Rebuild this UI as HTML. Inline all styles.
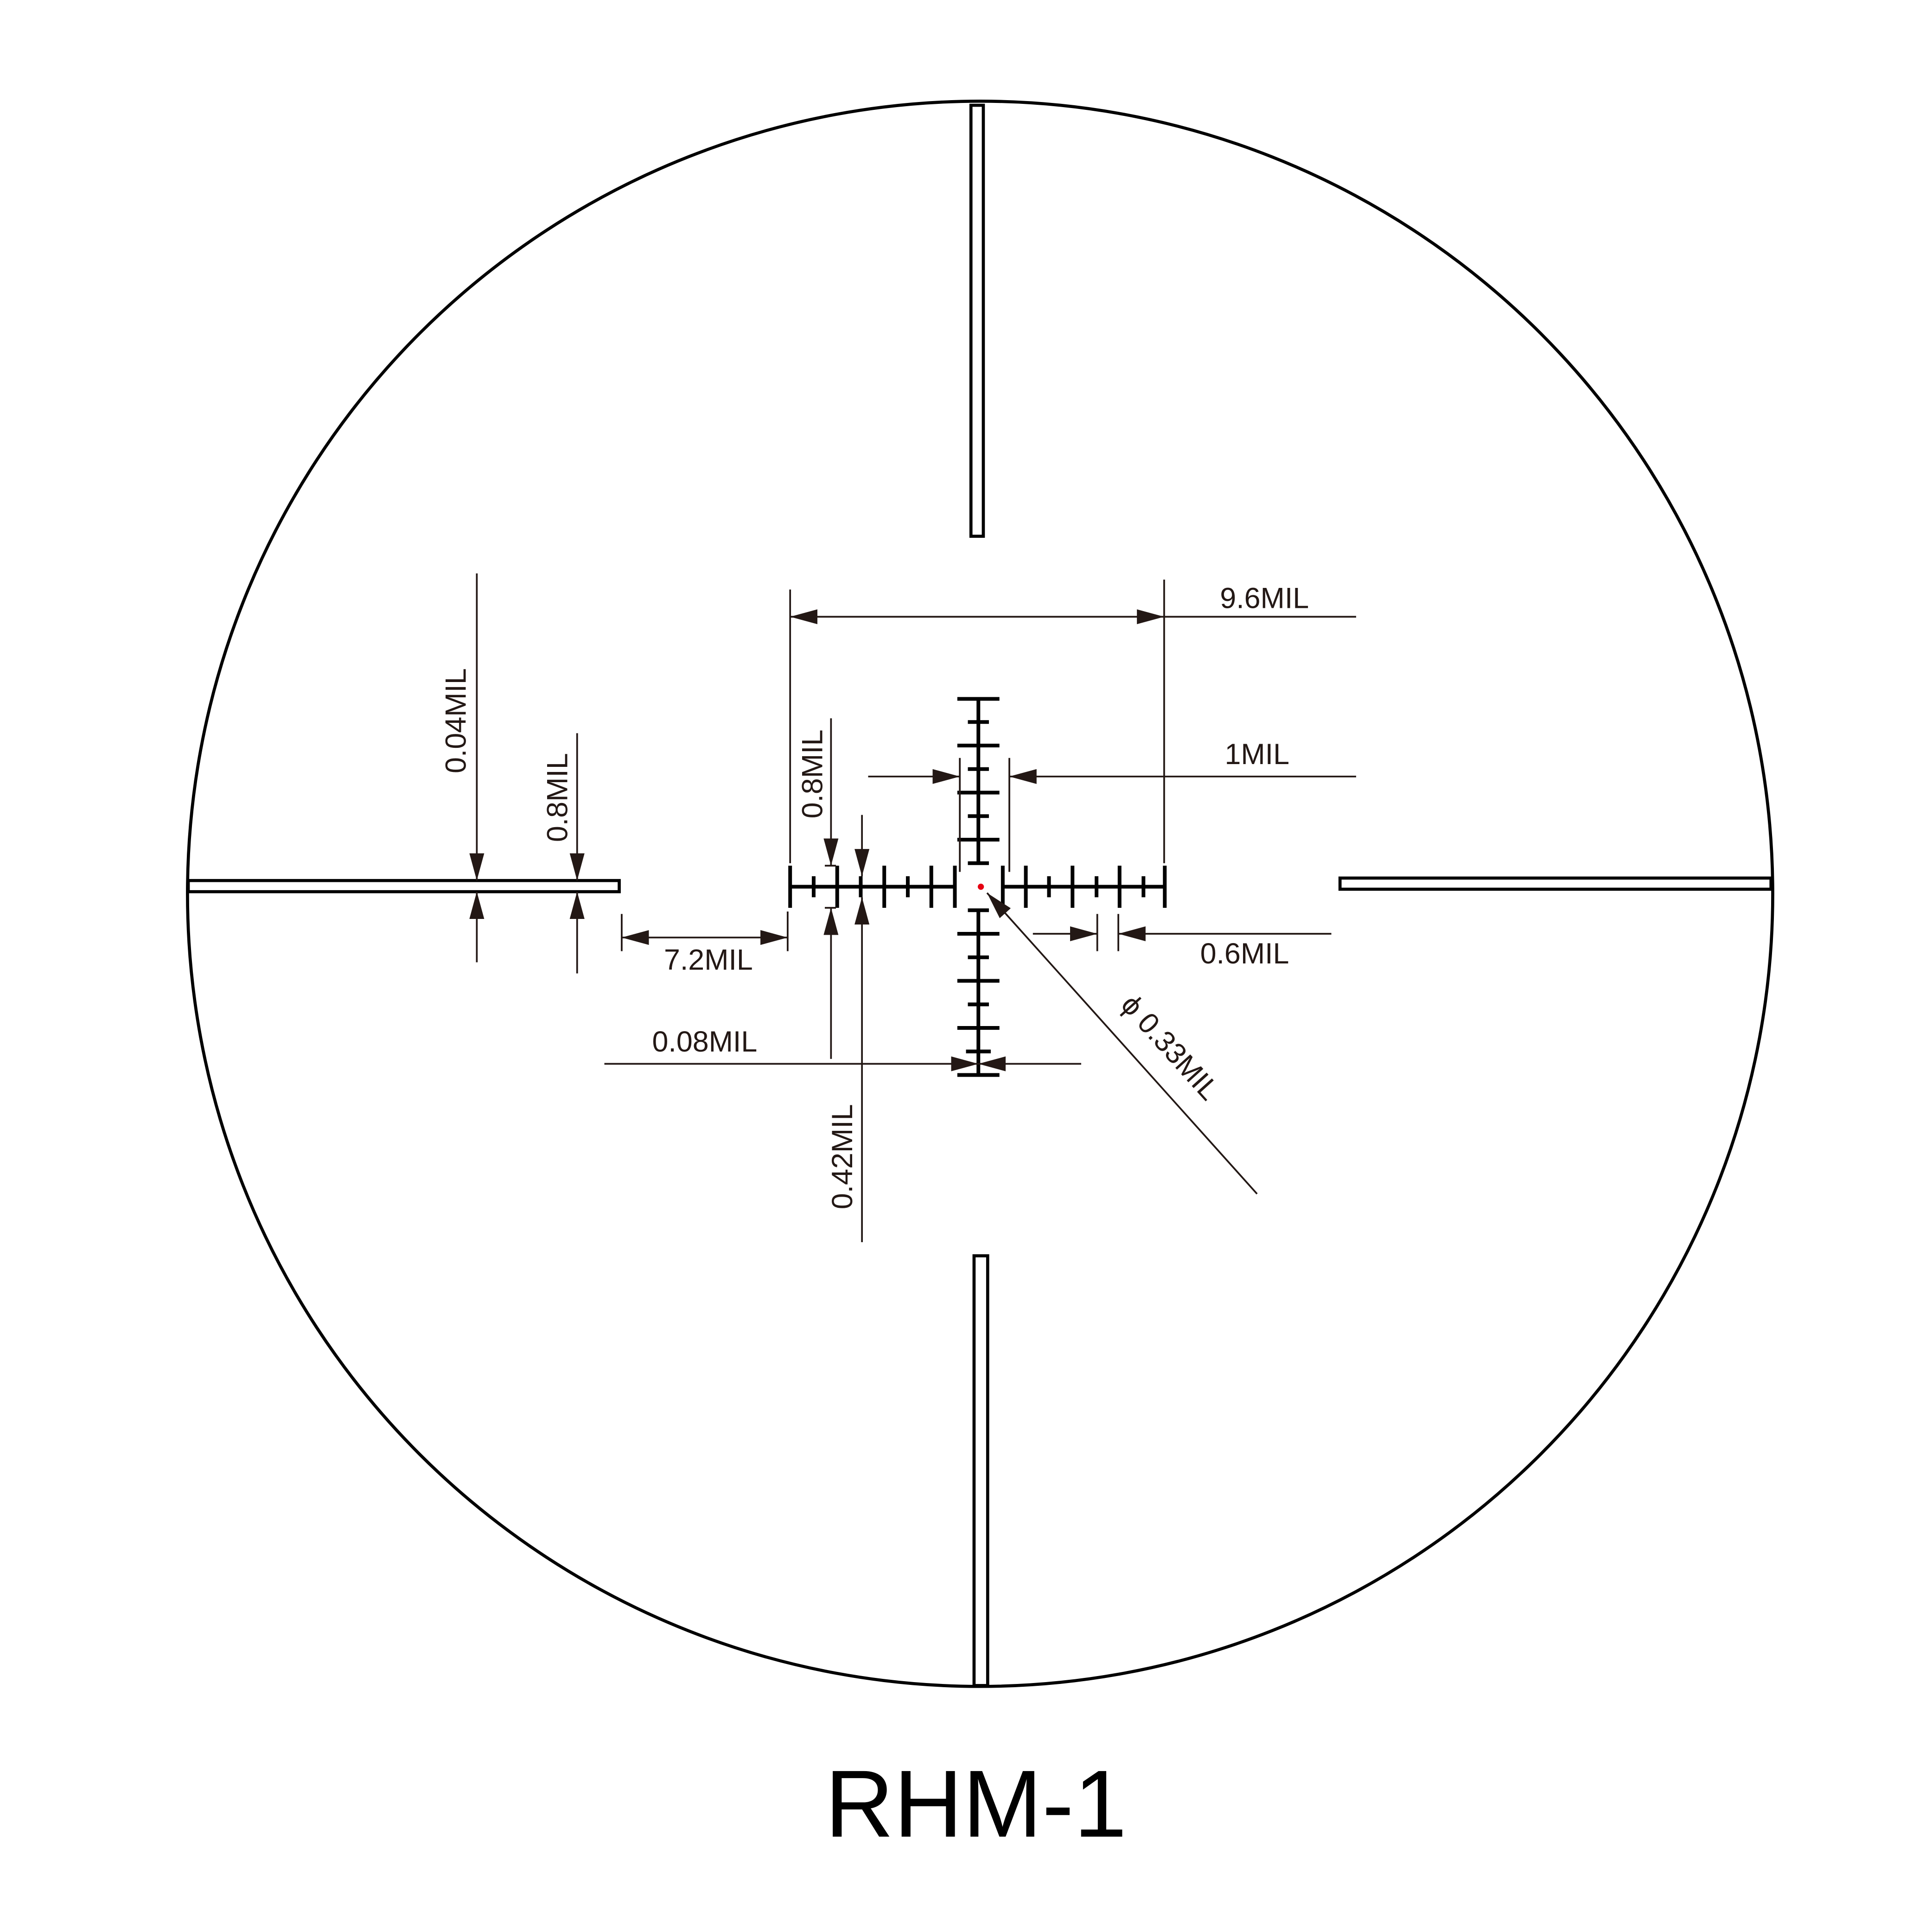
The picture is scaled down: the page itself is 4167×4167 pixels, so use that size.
<!DOCTYPE html>
<html><head><meta charset="utf-8"><style>html,body{margin:0;padding:0;background:#fff}svg{display:block}</style></head>
<body>
<svg width="4167" height="4167" viewBox="0 0 1560 1560" xmlns="http://www.w3.org/2000/svg">
<defs>
<marker id="a" viewBox="0 0 22 12" refX="22" refY="6" markerWidth="22" markerHeight="12" markerUnits="userSpaceOnUse" orient="auto-start-reverse"><path d="M0,0 L22,6 L0,12 Z" fill="#231815"/></marker>
</defs>
<rect width="1560" height="1560" fill="#fff"/>
<circle cx="791.4" cy="721.7" r="640" fill="none" stroke="#000" stroke-width="2.5"/>
<g fill="#fff" stroke="#000" stroke-width="2.5">
<rect x="784" y="85" width="10" height="348"/>
<rect x="786.5" y="1014" width="11" height="347"/>
<rect x="152" y="711" width="348" height="9"/>
<rect x="1082" y="709" width="348" height="9"/>
</g>
<g stroke="#000" stroke-width="3" fill="none">
<line x1="638" y1="716" x2="771" y2="716"/>
<line x1="809" y1="716" x2="941" y2="716"/>
<line x1="790" y1="564" x2="790" y2="697"/>
<line x1="790" y1="735" x2="790" y2="868"/>
<path d="M638,699V733M676,699V733M714,699V733M752,699V733M771,699V733M657,707.5V724.5M695,707.5V724.5M733,707.5V724.5
M809.7,699V733M828.3,699V733M866,699V733M904,699V733M940.5,699V733M847,707.5V724.5M885.4,707.5V724.5M923.3,707.5V724.5
M773,564.3H807M773,602H807M773,640H807M773,678H807M781.5,583H798.5M781.5,621H798.5M781.5,659H798.5M781.5,697H798.5
M773,754H807M773,792H807M773,830H807M773,868H807M781.5,735H798.5M781.5,773H798.5M781.5,811H798.5M780,849H800"/>
</g>
<circle cx="792" cy="716" r="2.5" fill="#e60012"/>
<g stroke="#231815" stroke-width="1.4" fill="none">
<line x1="638" y1="476" x2="638" y2="697"/>
<line x1="940" y1="468" x2="940" y2="697"/>
<line x1="940" y1="498" x2="1095" y2="498"/>
<line x1="638" y1="498" x2="940" y2="498" marker-start="url(#a)" marker-end="url(#a)"/>
<line x1="775" y1="612" x2="775" y2="704"/>
<line x1="815" y1="612" x2="815" y2="704"/>
<line x1="701" y1="627" x2="775" y2="627" marker-end="url(#a)"/>
<line x1="1095" y1="627" x2="815" y2="627" marker-end="url(#a)"/>
<line x1="886" y1="738" x2="886" y2="768"/>
<line x1="903" y1="738" x2="903" y2="768"/>
<line x1="834" y1="754" x2="886" y2="754" marker-end="url(#a)"/>
<line x1="1075" y1="754" x2="903" y2="754" marker-end="url(#a)"/>
<line x1="502" y1="738" x2="502" y2="768"/>
<line x1="636" y1="736" x2="636" y2="768"/>
<line x1="502" y1="757" x2="636" y2="757" marker-start="url(#a)" marker-end="url(#a)"/>
<line x1="385" y1="463" x2="385" y2="711" marker-end="url(#a)"/>
<line x1="385" y1="777" x2="385" y2="720" marker-end="url(#a)"/>
<line x1="466" y1="592" x2="466" y2="711" marker-end="url(#a)"/>
<line x1="466" y1="786" x2="466" y2="720" marker-end="url(#a)"/>
<line x1="671" y1="580" x2="671" y2="699" marker-end="url(#a)"/>
<line x1="671" y1="855" x2="671" y2="733" marker-end="url(#a)"/>
<line x1="666" y1="699" x2="675" y2="699"/>
<line x1="666" y1="733" x2="675" y2="733"/>
<line x1="696" y1="658" x2="696" y2="707.5" marker-end="url(#a)"/>
<line x1="696" y1="1003" x2="696" y2="724.5" marker-end="url(#a)"/>
<line x1="488" y1="859" x2="790" y2="859" marker-end="url(#a)"/>
<line x1="873" y1="859" x2="790" y2="859" marker-end="url(#a)"/>
<line x1="1015" y1="964" x2="797" y2="721" marker-end="url(#a)"/>
</g>
<g font-family="Liberation Sans, sans-serif" font-size="23.5" fill="#231815" text-anchor="middle">
<text x="1021" y="491">9.6MIL</text>
<text x="1015" y="617">1MIL</text>
<text x="1005" y="778">0.6MIL</text>
<text x="572" y="783">7.2MIL</text>
<text x="569" y="849">0.08MIL</text>
<text transform="translate(376,582) rotate(-90)">0.04MIL</text>
<text transform="translate(458,644) rotate(-90)">0.8MIL</text>
<text transform="translate(664,625) rotate(-90)">0.8MIL</text>
<text transform="translate(688,934) rotate(-90)">0.42MIL</text>
<text transform="translate(939,851) rotate(48)">ϕ 0.33MIL</text>
</g>
<text x="788" y="1483" font-family="Liberation Sans, sans-serif" font-size="77" text-anchor="middle" fill="#000">RHM-1</text>
</svg>
</body></html>
